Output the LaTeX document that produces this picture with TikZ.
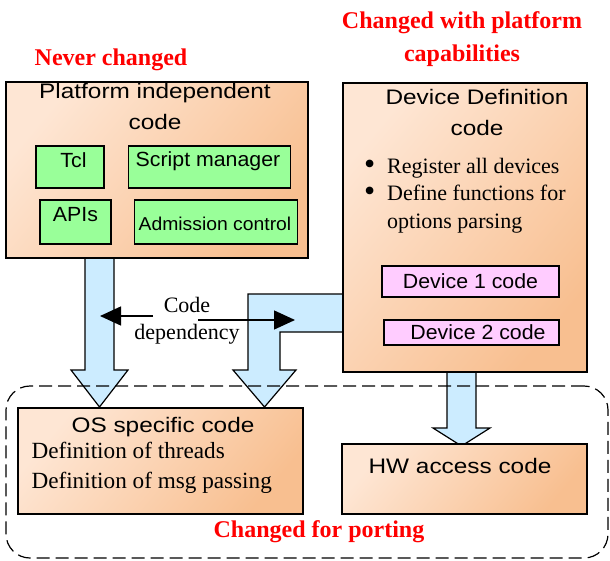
\documentclass[tikz,border=0pt]{standalone}
\usepackage{fontspec}
\setmainfont{Liberation Serif}
\newfontfamily\headfont{Liberation Sans}[FakeStretch=1.16]
\newfontfamily\boxfont{Liberation Sans}[FakeStretch=1.04]
\usepackage{tikz}
\usetikzlibrary{positioning}
\usetikzlibrary{arrows.meta}
\usepackage{xcolor}
\definecolor{peachlight}{HTML}{FEE6D4}
\definecolor{peachdark}{HTML}{F8BF90}
\definecolor{modgreen}{HTML}{99FF99}
\definecolor{devpink}{HTML}{FFCCFF}
\definecolor{flowblue}{HTML}{CCECFF}
\definecolor{portred}{HTML}{FF0000}
\newcommand{\itembullet}{\makebox[23pt][l]{\smash{\raisebox{-1pt}{\scalebox{1.45}{\textbullet}}}}}

\begin{document}
\begin{tikzpicture}[x=1pt, y=-1pt,
	codebox/.style={draw, line width=1.2pt, left color=peachlight, right color=peachdark, shading angle=50, inner sep=0pt},
	greenbox/.style={draw, line width=1.2pt, fill=modgreen, inner sep=0pt},
	pinkbox/.style={draw, line width=1.2pt, fill=devpink, inner sep=0pt, font=\boxfont\fontsize{20.5}{24}\selectfont},
	portzone/.style={draw, line width=1.2pt, dash pattern=on 13pt off 6pt, rounded corners=24pt, inner sep=0pt},
	flowarrow/.style={draw, line width=1.2pt, fill=flowblue},
	deparrow/.style={line width=1.4pt, -{Triangle[length=21pt,width=19pt]}},
	titletext/.style={font=\headfont\fontsize{21}{31.5}\selectfont, inner sep=0pt, align=center},
	boxtext/.style={font=\boxfont\fontsize{20.5}{24}\selectfont, inner sep=0pt},
	listtext/.style={font=\fontsize{22}{27.5}\selectfont, inner sep=0pt, align=left},
	desctext/.style={font=\fontsize{23.2}{30}\selectfont, inner sep=0pt, align=left},
	redlabel/.style={text=portred, font=\bfseries\fontsize{24}{33}\selectfont, inner sep=0pt, align=center}]
	\useasboundingbox (0,0) rectangle (610,560);

	% block arrows
	\draw[flowarrow] (85,258) -- (85,370) -- (71,370) -- (99.5,407) -- (128,370) -- (114,370) -- (114,258);
	\draw[flowarrow] (343,294) -- (248,294) -- (248,370) -- (233,370) -- (264.5,407) -- (296,370) -- (280,370) -- (280,332) -- (343,332);
	\draw[flowarrow] (447,372) -- (447,428) -- (433,428) -- (461.5,446) -- (490,428) -- (476,428) -- (476,372);

	\node (porting) [portzone, minimum width=602pt, minimum height=172pt] at (307,472) {};

	% platform independent part
	\node (platform) [codebox, minimum width=302pt, minimum height=176pt] at (157,170) {};
	\node (platformtitle) [titletext, anchor=north] at (155,83) {Platform independent\\code};
	\node (tcl) [greenbox, minimum width=68pt, minimum height=42pt] at (70,167) {};
	\node (tcltext) [boxtext, anchor=base] at (73.5,167.3) {Tcl};
	\node (script) [greenbox, minimum width=162pt, minimum height=42pt] at (209.5,167) {};
	\node (scripttext) [boxtext, anchor=base] at (208,166) {Script manager};
	\node (apis) [greenbox, minimum width=71pt, minimum height=44pt] at (75.5,222) {};
	\node (apistext) [boxtext, anchor=base] at (75.5,221.7) {APIs};
	\node (admission) [greenbox, minimum width=163pt, minimum height=44pt] at (215.8,222) {};
	\node (admissiontext) [boxtext, font=\boxfont\fontsize{18.6}{22}\selectfont, anchor=base] at (215,230.7) {Admission control};

	% device definition part
	\node (device) [codebox, minimum width=244pt, minimum height=289pt] at (465,227.5) {};
	\node (devicetitle) [titletext, anchor=north] at (477,88.7) {Device Definition\\code};
	\node (devicelist) [listtext, anchor=north west] at (364,158) {\itembullet Register all devices\\\itembullet Define functions for\\\hspace*{23pt}options parsing};
	\node (dev1) [pinkbox, minimum width=177pt, minimum height=31pt] at (470.5,281.5) {Device 1 code};
	\node (dev2) [pinkbox, minimum width=175pt, minimum height=25pt] at (471.5,332.5) {\hspace*{13pt}Device 2 code};

	% ported part
	\node (os) [codebox, minimum width=285pt, minimum height=106pt] at (160.5,461) {};
	\node (ostitle) [titletext, anchor=base] at (163,432) {OS specific code};
	\node (osdesc) [desctext, anchor=north west] at (31.3,442.2) {Definition of threads\\Definition of msg passing};
	\node (hw) [codebox, minimum width=245pt, minimum height=70pt] at (464.5,479) {};
	\node (hwtext) [titletext, anchor=base] at (460,473.3) {HW access code};

	% labels
	\node (never) [redlabel, anchor=base] at (111,65) {Never changed};
	\node (capab) [redlabel, anchor=north] at (462,11.4) {Changed with platform\\capabilities};
	\node (portlabel) [redlabel, anchor=base] at (319,537) {Changed for porting};

	\node (dep) [desctext, font=\fontsize{22}{27}\selectfont, align=center, anchor=north] at (187,297) {Code\\dependency};
	\coordinate (deptailL) at (153,316);
	\coordinate (depheadL) at (100,316);
	\coordinate (deptailR) at (198,320);
	\coordinate (depheadR) at (295,320);
	\draw[deparrow] (deptailL) -- (depheadL);
	\draw[deparrow] (deptailR) -- (depheadR);
\end{tikzpicture}
\end{document}
